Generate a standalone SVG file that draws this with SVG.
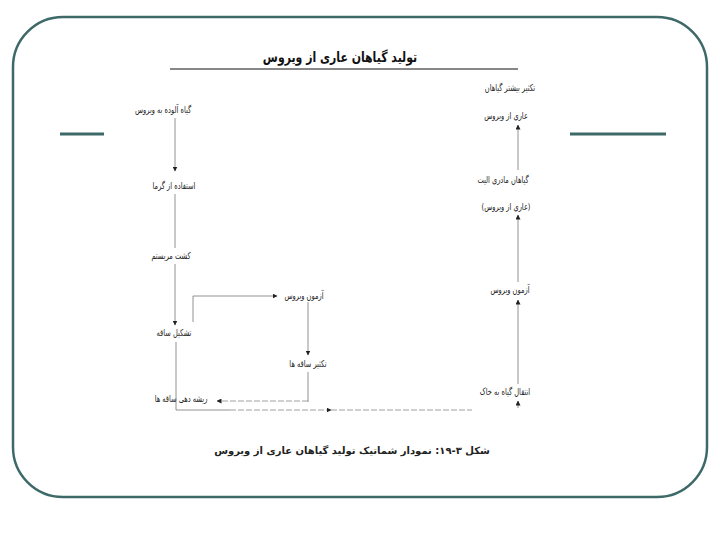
<svg xmlns="http://www.w3.org/2000/svg" width="720" height="540" viewBox="0 0 720 540">
<defs>
<style>
.t{font-family:"DejaVu Sans",sans-serif;font-size:9.5px;fill:#222;text-anchor:middle;direction:rtl}
.title{font-family:"DejaVu Sans",sans-serif;font-size:14px;font-weight:bold;fill:#111;text-anchor:middle;direction:rtl}
.cap{font-family:"DejaVu Sans",sans-serif;font-size:10px;font-weight:bold;fill:#222;text-anchor:middle;direction:rtl}
.c{stroke:#777;stroke-width:0.8;fill:none}
.d{stroke:#888;stroke-width:0.8;fill:none;stroke-dasharray:6 2}
.frame{fill:none;stroke:#3d6a69;stroke-width:2.5}
.bar{stroke:#3d6a69;stroke-width:3}
</style>
<marker id="ah" viewBox="0 0 10 10" refX="9" refY="5" markerWidth="5" markerHeight="5" orient="auto" markerUnits="userSpaceOnUse">
<path d="M0,0 L10,5 L0,10 z" fill="#222"/>
</marker>
</defs>
<rect width="720" height="540" fill="#fff"/>
<rect class="frame" x="13" y="17" width="694" height="480" rx="50" ry="50"/>
<line class="bar" x1="60" y1="134" x2="104" y2="134"/>
<line class="bar" x1="570" y1="134" x2="666" y2="134"/>

<g id="title">
<text class="title" transform="translate(340,62) scale(0.78,1)">تولید گیاهان عاری از ویروس</text>
<line x1="170" y1="69" x2="518" y2="69" stroke="#111" stroke-width="1.2"/>
</g>

<g id="connectors">
<line class="c" x1="175" y1="118" x2="175" y2="171" marker-end="url(#ah)"/>
<line class="c" x1="175" y1="194" x2="175" y2="248"/>
<line class="c" x1="175" y1="264" x2="175" y2="325" marker-end="url(#ah)"/>
<polyline class="c" points="193,322 193,296 277,296" marker-end="url(#ah)"/>
<line class="c" x1="308" y1="302" x2="308" y2="355" marker-end="url(#ah)"/>
<line class="c" x1="308" y1="372" x2="308" y2="402"/>
<line class="d" x1="308" y1="401" x2="217" y2="401" marker-end="url(#ah)"/>
<polyline class="c" points="176,342 176,410 230,410"/>
<line class="d" x1="230" y1="410" x2="331" y2="410" marker-end="url(#ah)"/>
<line class="d" x1="331" y1="410" x2="472" y2="410"/>
<line class="c" x1="518" y1="408" x2="518" y2="401" marker-end="url(#ah)"/>
<line class="c" x1="518" y1="384" x2="518" y2="300" marker-end="url(#ah)"/>
<line class="c" x1="518" y1="282" x2="518" y2="215" marker-end="url(#ah)"/>
<line class="c" x1="518" y1="170" x2="518" y2="125" marker-end="url(#ah)"/>
</g>

<g id="n1"><text class="t" transform="translate(163,113) scale(0.7,1)">گیاه آلوده به ویروس</text></g>
<g id="n2"><text class="t" transform="translate(174,189) scale(0.7,1)">استفاده از گرما</text></g>
<g id="n3"><text class="t" transform="translate(171,259) scale(0.7,1)">کشت مریستم</text></g>
<g id="n4"><text class="t" transform="translate(174,336) scale(0.7,1)">تشکیل ساقه</text></g>
<g id="n5"><text class="t" transform="translate(304,299) scale(0.7,1)">آزمون ویروس</text></g>
<g id="n6"><text class="t" transform="translate(308,367) scale(0.7,1)">تکثیر ساقه ها</text></g>
<g id="n7"><text class="t" transform="translate(181,402) scale(0.7,1)">ریشه دهی ساقه ها</text></g>
<g id="n8"><text class="t" transform="translate(505,395) scale(0.7,1)">انتقال گیاه به خاک</text></g>
<g id="n9"><text class="t" transform="translate(510,293) scale(0.7,1)">آزمون ویروس</text></g>
<g id="n10">
<text class="t" transform="translate(503,183) scale(0.7,1)">گیاهان مادری الیت</text>
<text class="t" transform="translate(506,210) scale(0.7,1)">(عاری از ویروس)</text>
</g>
<g id="n11">
<text class="t" transform="translate(510,91) scale(0.7,1)">تکثیر بیشتر گیاهان</text>
<text class="t" transform="translate(506,119) scale(0.7,1)">عاری از ویروس</text>
</g>

<g id="caption"><text class="cap" x="352" y="454">شکل ۳-۱۹: نمودار شماتیک تولید گیاهان عاری از ویروس</text></g>
</svg>
